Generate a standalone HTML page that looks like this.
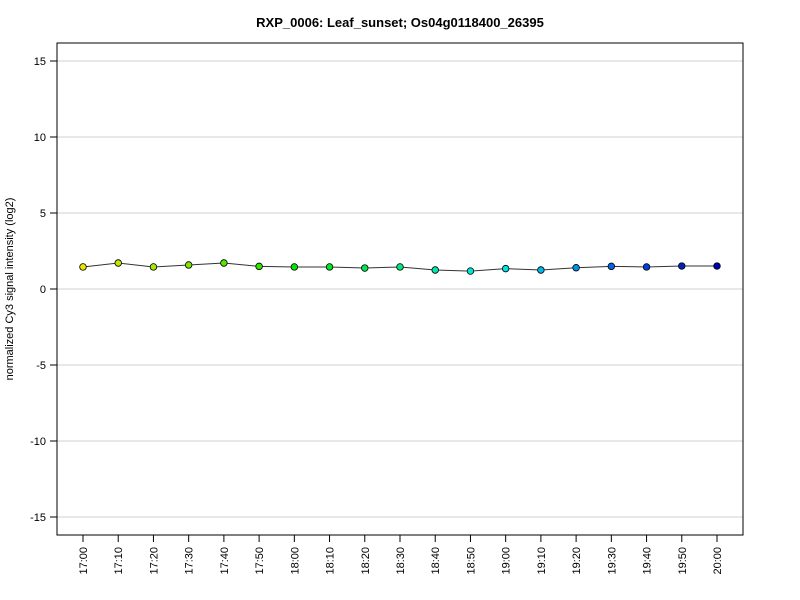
<!DOCTYPE html>
<html><head><meta charset="utf-8"><style>body{margin:0;background:#fff}svg{display:block;font-family:"Liberation Sans",sans-serif}</style></head>
<body>
<svg id="chart" width="800" height="600">
<text x="400" y="27" text-anchor="middle" font-size="13" font-weight="bold">RXP_0006: Leaf_sunset; Os04g0118400_26395</text>
<text transform="translate(13,289) rotate(-90)" text-anchor="middle" font-size="11">normalized Cy3 signal intensity (log2)</text>
<g id="grid"></g><g id="yticks"></g><g id="xticks"></g><g id="series"></g>
<rect x="57" y="43" width="686" height="492" fill="none" stroke="#000"/>
</svg>
<script>
const categories=["17:00","17:10","17:20","17:30","17:40","17:50","18:00","18:10","18:20","18:30","18:40","18:50","19:00","19:10","19:20","19:30","19:40","19:50","20:00"];
const values=[1.45,1.71,1.45,1.58,1.71,1.49,1.45,1.45,1.38,1.45,1.25,1.18,1.34,1.25,1.40,1.49,1.45,1.51,1.51];
const pointColors=["#e6e600","#c8e600","#a8e600","#80e600","#5ae600","#2ee600","#00e600","#00e620","#00e650","#00e680","#00e6b0","#00e6d2","#00e0e6","#00b8e6","#0090e6","#0066e6","#0040d8","#0020c0","#0000b0"];
const yTicks=[-15,-10,-5,0,5,10,15];
const NS="http://www.w3.org/2000/svg";
const xS=i=>83+i*(717-83)/(categories.length-1);
const yS=v=>289-v*15.2;
function mk(tag,attrs,parent){const e=document.createElementNS(NS,tag);for(const k in attrs)e.setAttribute(k,attrs[k]);document.getElementById(parent).appendChild(e);return e;}
yTicks.forEach(t=>{
 const g=mk("line",{x1:57,x2:743,y1:yS(t),y2:yS(t),stroke:"#d0d0d0"},"grid");
 
 
 mk("line",{x1:50,x2:57,y1:yS(t),y2:yS(t),stroke:"#000"},"yticks");
 const tx=mk("text",{x:46,y:yS(t)+4,"text-anchor":"end","font-size":"11"},"yticks");
 tx.textContent=t;
 
 
});
categories.forEach((c,i)=>{
 mk("line",{x1:xS(i),x2:xS(i),y1:535,y2:542,stroke:"#000"},"xticks");
 const tx=mk("text",{transform:`translate(${xS(i)+4},547) rotate(-90)`,"text-anchor":"end","font-size":"11"},"xticks");
 tx.textContent=c;
 
 
});
const pl=mk("polyline",{points:values.map((v,i)=>xS(i)+","+yS(v)).join(" "),fill:"none",stroke:"#333","stroke-width":"1"},"series");


values.forEach((v,i)=>{
 const c=mk("circle",{cx:xS(i),cy:yS(v),r:3.3,fill:pointColors[i],stroke:"#000","stroke-width":"0.8"},"series");
 
 
});
</script>
</body></html>
